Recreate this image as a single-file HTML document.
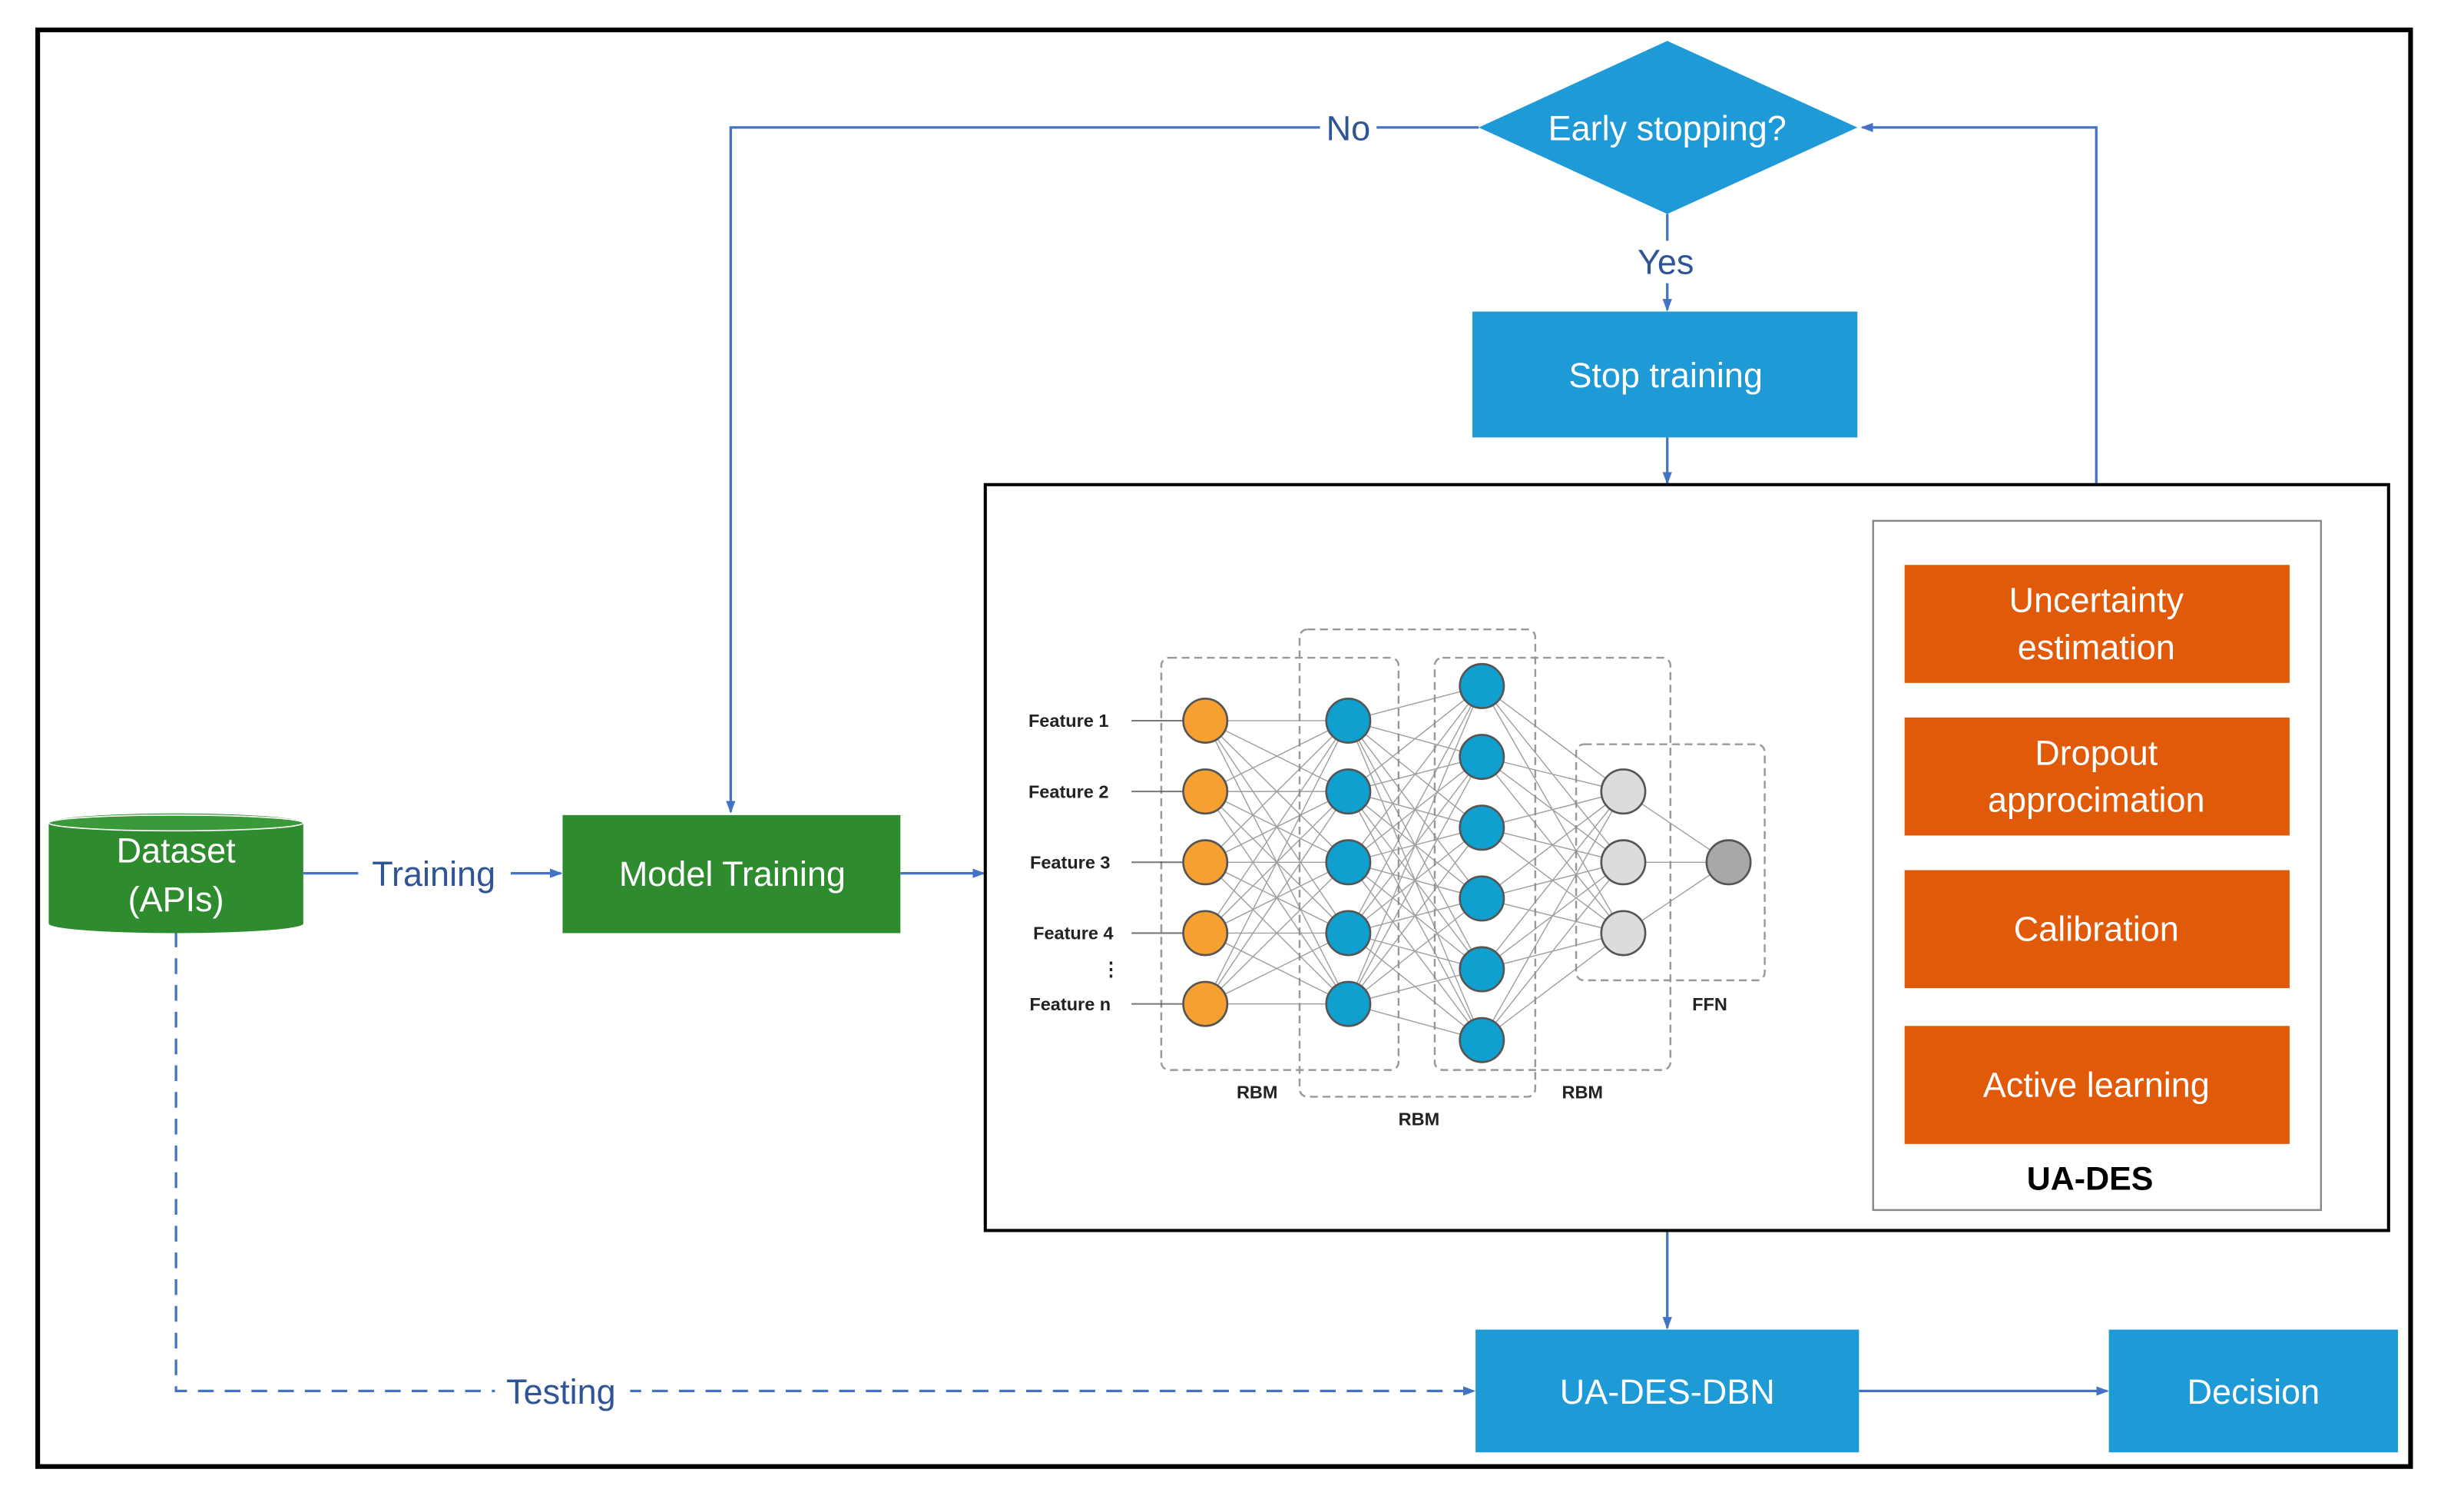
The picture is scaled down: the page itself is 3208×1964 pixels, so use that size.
<!DOCTYPE html>
<html><head><meta charset="utf-8"><style>html,body{margin:0;padding:0;background:#fff}svg{display:block}</style></head><body>
<svg width="3208" height="1964" viewBox="0 0 1568 959" preserveAspectRatio="none" xmlns="http://www.w3.org/2000/svg" font-family="Liberation Sans, sans-serif">
<defs><marker id="a" markerWidth="8" markerHeight="8" refX="7" refY="4" orient="auto" markerUnits="userSpaceOnUse"><path d="M0,1 L8,4 L0,7 z" fill="#4472C4"/></marker></defs>
<rect x="0" y="0" width="1568" height="959" fill="#fff"/>
<rect x="24" y="19" width="1510" height="913" fill="none" stroke="#000" stroke-width="3"/>
<g stroke="#4472C4" stroke-width="1.6" fill="none">
<path d="M941 81 H465 V516" marker-end="url(#a)"/>
<path d="M1334 331 V81 H1185" marker-end="url(#a)"/>
<path d="M1061 136 V153"/><path d="M1061 180 V197" marker-end="url(#a)"/>
<path d="M1061 278 V307" marker-end="url(#a)"/>
<path d="M193 555 H357" marker-end="url(#a)"/>
<path d="M573 555 H626" marker-end="url(#a)"/>
<path d="M1115 548 H1191" marker-end="url(#a)"/>
<path d="M1061 782 V844" marker-end="url(#a)"/>
<path d="M1183 884 H1341" marker-end="url(#a)"/>
<path d="M112 592 V884 H938" stroke-dasharray="10,7" marker-end="url(#a)"/>
</g>
<g font-size="22" fill="#2F5597" text-anchor="middle">
<rect x="840" y="68" width="36" height="26" fill="#fff"/><text x="858" y="89">No</text>
<text x="1060" y="174">Yes</text>
<rect x="228" y="540" width="97" height="30" fill="#fff"/><text x="276" y="563">Training</text>
<rect x="315" y="870" width="86" height="28" fill="#fff"/><text x="357" y="892">Testing</text>
</g>
<polygon points="1061,26 1182,81 1061,136 941,81" fill="#1E9AD6"/>
<text x="1061" y="89" font-size="22" fill="#fff" text-anchor="middle">Early stopping?</text>
<rect x="937" y="198" width="245" height="80" fill="#1E9AD6"/>
<text x="1060" y="246" font-size="22" fill="#fff" text-anchor="middle">Stop training</text>
<rect x="627" y="308" width="893" height="474" fill="#fff" stroke="#000" stroke-width="2"/>
<rect x="1192" y="331" width="285" height="438" fill="#fff" stroke="#888" stroke-width="1.2"/>
<g fill="#E05A0A"><rect x="1212" y="359" width="245" height="75"/><rect x="1212" y="456" width="245" height="75"/><rect x="1212" y="553" width="245" height="75"/><rect x="1212" y="652" width="245" height="75"/></g>
<g font-size="22" fill="#fff" text-anchor="middle">
<text x="1334" y="389">Uncertainty</text><text x="1334" y="419">estimation</text>
<text x="1334" y="486">Dropout</text><text x="1334" y="516">approcimation</text>
<text x="1334" y="598">Calibration</text>
<text x="1334" y="697">Active learning</text>
</g>
<text x="1330" y="756" font-size="21" font-weight="bold" fill="#000" text-anchor="middle">UA-DES</text>
<path d="M31 523 V587 A81 6 0 0 0 193 587 V523 A81 6 0 0 0 31 523 Z" fill="#2E8B2E"/>
<ellipse cx="112" cy="523" rx="81" ry="5" fill="#3a9a3a" stroke="#fff" stroke-width="0.8"/>
<text x="112" y="548" font-size="22" fill="#fff" text-anchor="middle">Dataset</text>
<text x="112" y="579" font-size="22" fill="#fff" text-anchor="middle">(APIs)</text>
<rect x="358" y="518" width="215" height="75" fill="#2E8B2E"/>
<text x="466" y="563" font-size="22" fill="#fff" text-anchor="middle">Model Training</text>
<rect x="939" y="845" width="244" height="78" fill="#1E9AD6"/>
<text x="1061" y="892" font-size="22" fill="#fff" text-anchor="middle">UA-DES-DBN</text>
<rect x="1342" y="845" width="184" height="78" fill="#1E9AD6"/>
<text x="1434" y="892" font-size="22" fill="#fff" text-anchor="middle">Decision</text>
<g fill="none" stroke="#999" stroke-width="1.2" stroke-dasharray="5,3">
<rect x="739" y="418" width="151" height="262" rx="5"/>
<rect x="827" y="400" width="150" height="297" rx="5"/>
<rect x="913" y="418" width="150" height="262" rx="5"/>
<rect x="1003" y="473" width="120" height="150" rx="5"/>
</g>
<g stroke="#888" stroke-width="0.7" fill="none" opacity="0.8">
<path d="M767 458L858 458M767 458L858 503M767 458L858 548M767 458L858 593M767 458L858 638M767 503L858 458M767 503L858 503M767 503L858 548M767 503L858 593M767 503L858 638M767 548L858 458M767 548L858 503M767 548L858 548M767 548L858 593M767 548L858 638M767 593L858 458M767 593L858 503M767 593L858 548M767 593L858 593M767 593L858 638M767 638L858 458M767 638L858 503M767 638L858 548M767 638L858 593M767 638L858 638"/>
<path d="M858 458L943 436M858 458L943 481M858 458L943 526M858 458L943 571M858 458L943 616M858 458L943 661M858 503L943 436M858 503L943 481M858 503L943 526M858 503L943 571M858 503L943 616M858 503L943 661M858 548L943 436M858 548L943 481M858 548L943 526M858 548L943 571M858 548L943 616M858 548L943 661M858 593L943 436M858 593L943 481M858 593L943 526M858 593L943 571M858 593L943 616M858 593L943 661M858 638L943 436M858 638L943 481M858 638L943 526M858 638L943 571M858 638L943 616M858 638L943 661"/>
<path d="M943 436L1033 503M943 436L1033 548M943 436L1033 593M943 481L1033 503M943 481L1033 548M943 481L1033 593M943 526L1033 503M943 526L1033 548M943 526L1033 593M943 571L1033 503M943 571L1033 548M943 571L1033 593M943 616L1033 503M943 616L1033 548M943 616L1033 593M943 661L1033 503M943 661L1033 548M943 661L1033 593"/>
<path d="M1033 503L1100 548M1033 548L1100 548M1033 593L1100 548"/>
<path d="M720 458H753M720 503H753M720 548H753M720 593H753M720 638H753" stroke="#555" stroke-width="1"/>
</g>
<g stroke="#555" stroke-width="1.3">
<g fill="#F5A030"><circle cx="767" cy="458" r="14"/><circle cx="767" cy="503" r="14"/><circle cx="767" cy="548" r="14"/><circle cx="767" cy="593" r="14"/><circle cx="767" cy="638" r="14"/></g>
<g fill="#0FA0D0"><circle cx="858" cy="458" r="14"/><circle cx="858" cy="503" r="14"/><circle cx="858" cy="548" r="14"/><circle cx="858" cy="593" r="14"/><circle cx="858" cy="638" r="14"/>
<circle cx="943" cy="436" r="14"/><circle cx="943" cy="481" r="14"/><circle cx="943" cy="526" r="14"/><circle cx="943" cy="571" r="14"/><circle cx="943" cy="616" r="14"/><circle cx="943" cy="661" r="14"/></g>
<g fill="#DCDCDC"><circle cx="1033" cy="503" r="14"/><circle cx="1033" cy="548" r="14"/><circle cx="1033" cy="593" r="14"/></g>
<circle cx="1100" cy="548" r="14" fill="#A8A8A8"/>
</g>
<g font-size="11.5" font-weight="bold" fill="#222" text-anchor="middle">
<text x="680" y="462">Feature 1</text><text x="680" y="507">Feature 2</text><text x="681" y="552">Feature 3</text><text x="683" y="597">Feature 4</text><text x="681" y="642">Feature n</text>
<text x="707" y="620" font-size="12">⋮</text>
<text x="800" y="698">RBM</text><text x="903" y="715">RBM</text><text x="1007" y="698">RBM</text><text x="1088" y="642">FFN</text>
</g>
</svg>
</body></html>
